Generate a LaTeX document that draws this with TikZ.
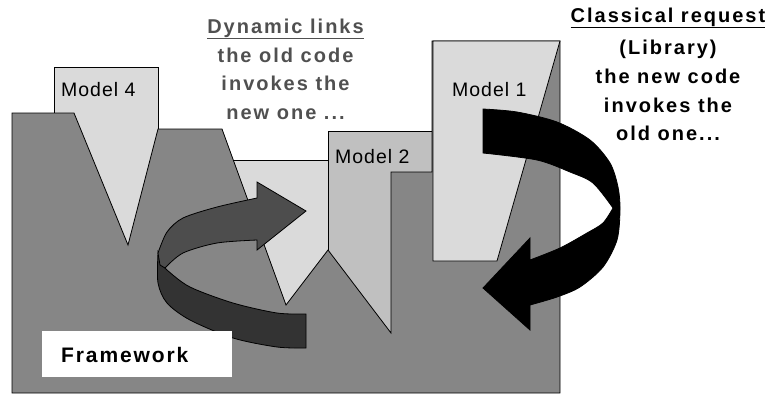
\documentclass[tikz,border=0pt]{standalone}
\usepackage{fontspec}
\setmainfont{Liberation Sans}
\newfontfamily\hdfont[LetterSpace=10]{Liberation Sans}
\newfontfamily\fwfont[LetterSpace=9]{Liberation Sans}
\newfontfamily\mdfont[LetterSpace=5]{Liberation Sans}
\definecolor{fwgray}{RGB}{134,134,134}
\definecolor{modlight}{RGB}{218,218,218}
\definecolor{modmid}{RGB}{192,192,192}
\definecolor{arrowup}{RGB}{77,77,77}
\definecolor{arrowlow}{RGB}{51,51,51}
\definecolor{dyntext}{RGB}{80,80,80}
\tikzset{
  outl/.style={draw=black,line width=0.8pt,line join=miter},
  modelA/.style={outl,fill=modlight},
  modelB/.style={outl,fill=modmid},
  fwshape/.style={outl,fill=fwgray},
  hdline/.style={font=\hdfont\bfseries\fontsize{20}{24}\selectfont,anchor=base,inner sep=0pt},
  modlabel/.style={font=\mdfont\fontsize{19.5}{23}\selectfont,anchor=base west,inner sep=0pt},
  fwlabel/.style={font=\fwfont\bfseries\fontsize{21}{25}\selectfont,anchor=base west,inner sep=0pt}
}
\begin{document}
\begin{tikzpicture}[x=1pt,y=-1pt]
\useasboundingbox (0,0) rectangle (774,394);
% models behind the framework
\path[modelA] (54,67) rectangle (158,250);
\path[modelA] (225,160) rectangle (328,312);
\path[modelB] (328,131) rectangle (432,340);
% framework
\path[fwshape] (12,113) -- (74,113) -- (128,245) -- (158,129) -- (222,129)
  -- (286,305) -- (328,250) -- (391,333) -- (391,172) -- (432,172)
  -- (432,41) -- (560,41) -- (560,393) -- (12,393) -- cycle;
% model 1 in front
\path[modelA] (433,41) -- (560,41) -- (497,261) -- (433,261) -- cycle;
% black arrow (classical request)
\path[outl,fill=black] (483,109)
  -- plot[smooth] coordinates {(483,109) (517,112) (557,122) (590,140) (610,163) (618,187) (620,210) (617,240) (603,267) (580,287) (557,297) (530,305)}
  -- (530,330) -- (483,288) -- (530,238) -- (530,260)
  -- plot[smooth] coordinates {(530,260) (560,248) (587,233) (603,223) (613,208)}
  -- plot[smooth] coordinates {(613,208) (593,183) (570,172) (537,160) (483,153)}
  -- cycle;
% dark arrow (dynamic links): lower band
\path[outl,fill=arrowlow] (306,314)
  -- plot[smooth] coordinates {(306,314) (277,313) (233,303) (190,287) (167,270) (160,262)}
  -- (158,253)
  -- plot[smooth] coordinates {(158,253) (158,283) (167,303) (190,320) (233,338) (277,347) (306,348)}
  -- cycle;
% upper band with head
\path[outl,fill=arrowup] (158,253)
  -- plot[smooth] coordinates {(158,253) (167,232) (183,218) (217,207) (257,198)}
  -- (257,182) -- (306,211) -- (257,250) -- (257,240)
  -- plot[smooth] coordinates {(257,240) (217,243) (183,253) (165,268)}
  -- (160,265) -- cycle;
% framework label box
\node[fill=white,minimum width=190pt,minimum height=46pt,inner sep=0pt,anchor=north west] (fwbox) at (42,331) {};
\node[fwlabel] (fw) at (61,362) {Framework};
% model labels
\node[modlabel] (m4) at (61,96.5) {Model 4};
\node[modlabel] (m2) at (335,163) {Model 2};
\node[modlabel] (m1) at (452,96.5) {Model 1};
% dynamic links text
\begin{scope}[every node/.style={hdline,text=dyntext}]
\node (d1) at (285.5,33) {\underline{Dynamic links}};
\node (d2) at (285.5,62) {the old code};
\node (d3) at (285.5,90) {invokes the};
\node (d4) at (285.5,119) {new one ...};
\end{scope}
% classical request text
\begin{scope}[every node/.style={hdline,text=black}]
\node (c1) at (668,22) {\underline{Classical request}};
\node (c2) at (668,54) {(Library)};
\node (c3) at (668,83) {the new code};
\node (c4) at (668,112) {invokes the};
\node (c5) at (668,140) {old one...};
\end{scope}
\end{tikzpicture}
\end{document}
